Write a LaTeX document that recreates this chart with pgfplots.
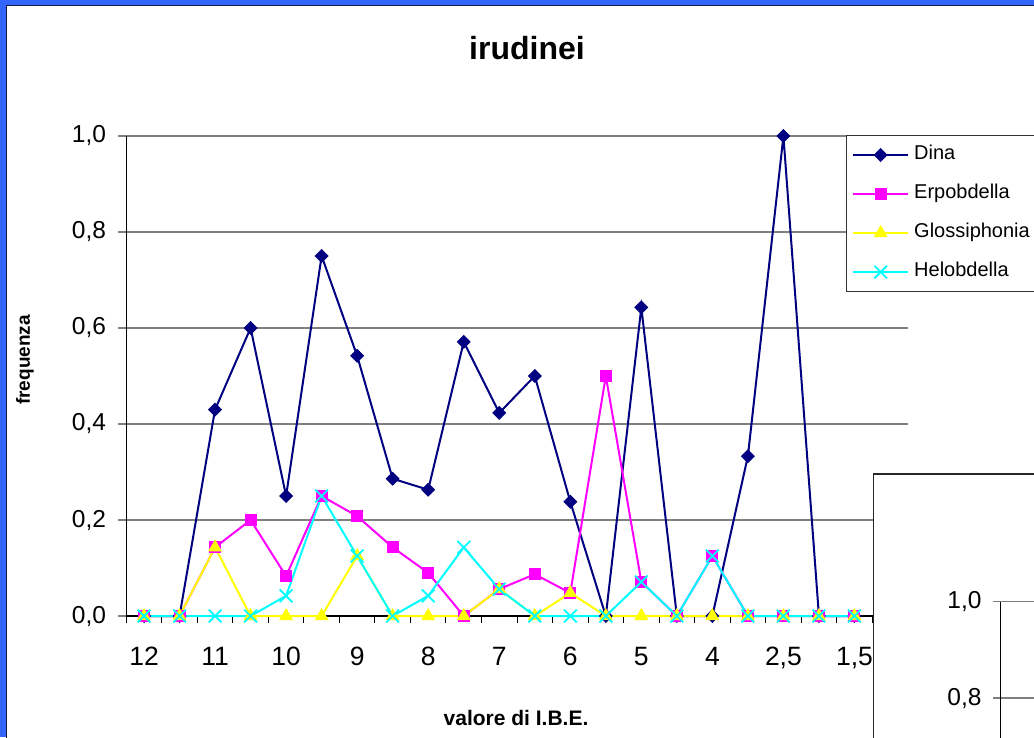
\documentclass[border=0pt]{standalone}
\usepackage{pgfplots}
\pgfplotsset{compat=1.18}
\usepackage{fontspec}
\setmainfont{Liberation Sans}
\definecolor{frameblue}{HTML}{3366FF}
\definecolor{framedark}{HTML}{1A1A40}
\definecolor{dina}{HTML}{000080}
\definecolor{erpo}{HTML}{FF00FF}
\definecolor{glos}{HTML}{FFFF00}
\definecolor{helo}{HTML}{00FFFF}
\definecolor{gridgray}{HTML}{808080}
\newcommand{\fs}[1]{\fontsize{#1}{#1}\selectfont}
\begin{document}
\begin{tikzpicture}[x=1pt,y=1pt]
\path[use as bounding box] (0,0) rectangle (1034,737);
\clip (0,0) rectangle (1034,737);
\fill[white] (0,0) rectangle (1034,737);
\fill[frameblue] (0,0) rectangle (6.3,737);
\fill[frameblue] (0,732) rectangle (1034,737);
\draw[framedark, line width=1.3pt] (6.8,-2) -- (6.8,731.4) -- (1040,731.4);

\node[anchor=base, font=\bfseries\fs{32}] at (527,677) {irudinei};
\node[anchor=base, font=\bfseries\fs{21}] at (516,12) {valore di I.B.E.};
\node[rotate=90, font=\bfseries\fs{19}] at (25,377) {frequenza};

\begin{axis}[
  at={(126.25pt,121pt)}, anchor=south west,
  scale only axis, width=781.5pt, height=480pt,
  xmin=-0.5, xmax=21.5, ymin=0, ymax=1,
  axis lines*=left,
  axis line style={black, line width=1.2pt},
  /pgf/number format/assume math mode=true,
  xtick={0,2,4,6,8,10,12,14,16,18,20},
  xticklabels={12,11,10,9,8,7,6,5,4,{2,5},{1,5}},
  minor xtick={-0.5,0.5,...,21.5},
  major x tick style={draw=none},
  minor x tick style={black, line width=1pt},
  minor tick length=7pt,
  major tick length=8pt,
  tick align=outside,
  ytick={0,0.2,0.4,0.6,0.8,1},
  yticklabel={\pgfmathprintnumber[fixed,fixed zerofill,precision=1,use comma]{\tick}},
  major y tick style={gridgray, line width=1.3pt},
  ymajorgrids,
  major grid style={gridgray, line width=1.3pt},
  xticklabel style={font=\fs{26.5}, anchor=base, inner sep=0pt, yshift=-41pt},
  yticklabel style={font=\fs{24.5}, anchor=base east, inner sep=0pt, xshift=-12pt, yshift=-7pt},
  clip=false,
  legend style={at={(0.9206,1.002)}, anchor=north west, draw=black!80, line width=1pt,
    fill=white, font=\fs{20}, inner xsep=6pt, inner ysep=9pt, row sep=18pt, column sep=3pt,
    nodes={inner sep=2pt, text height=13pt, text depth=4pt}},
  legend cell align=left,
  legend image code/.code={\draw[mark repeat=2,mark phase=2] plot coordinates {(0pt,0pt) (27.5pt,0pt) (55pt,0pt)};},
]
\addplot[dina, line width=2pt, mark=diamond*, mark size=6.3pt, mark options={solid, xscale=1.333, line width=1pt}]
coordinates {(0,0) (1,0) (2,0.43) (3,0.60) (4,0.25) (5,0.75) (6,0.542) (7,0.286) (8,0.263) (9,0.571) (10,0.423) (11,0.50) (12,0.238) (13,0) (14,0.643) (15,0) (16,0) (17,0.333) (18,1.0) (19,0) (20,0)};
\addlegendentry{\makebox[150pt][l]{Dina}}
\addplot[erpo, line width=2pt, mark=square*, mark size=5.5pt, mark options={solid, line width=1pt}]
coordinates {(0,0) (1,0) (2,0.143) (3,0.2) (4,0.083) (5,0.25) (6,0.208) (7,0.143) (8,0.09) (9,0) (10,0.056) (11,0.087) (12,0.048) (13,0.5) (14,0.071) (15,0) (16,0.125) (17,0) (18,0) (19,0) (20,0)};
\addlegendentry{\makebox[150pt][l]{Erpobdella}}
\addplot[glos, line width=2pt, mark=triangle*, mark size=7pt, mark options={solid, line width=1pt}]
coordinates {(0,0) (1,0) (2,0.143) (3,0) (4,0) (5,0) (6,0.125) (7,0) (8,0) (9,0) (10,0.056) (11,0) (12,0.048) (13,0) (14,0) (15,0) (16,0) (17,0) (18,0) (19,0) (20,0)};
\addlegendentry{\makebox[150pt][l]{Glossiphonia}}
\addplot[helo, line width=2pt, mark=x, mark size=9pt, mark options={solid, line width=1.8pt}]
coordinates {(0,0) (1,0) (2,0) (3,0) (4,0.042) (5,0.25) (6,0.125) (7,0) (8,0.042) (9,0.143) (10,0.056) (11,0) (12,0) (13,0) (14,0.071) (15,0) (16,0.125) (17,0) (18,0) (19,0) (20,0)};
\addlegendentry{\makebox[150pt][l]{Helobdella}}
\end{axis}

\fill[white, draw=black!85, line width=1.5pt] (873.3,263) rectangle (1060,-20);

\begin{axis}[
  at={(1000.7pt,135.3pt)}, anchor=north west,
  scale only axis, width=300pt, height=481.5pt,
  xmin=0, xmax=1, ymin=0, ymax=1,
  axis lines*=left,
  axis line style={black, line width=1.2pt},
  /pgf/number format/assume math mode=true,
  xtick=\empty,
  ytick={0.8,1},
  yticklabel={\pgfmathprintnumber[fixed,fixed zerofill,precision=1,use comma]{\tick}},
  major tick length=8pt, tick align=outside,
  major y tick style={gridgray, line width=1.3pt},
  ymajorgrids,
  major grid style={gridgray, line width=1.3pt},
  yticklabel style={font=\fs{24.5}, anchor=base east, inner sep=0pt, xshift=-11pt, yshift=-7pt},
]
\end{axis}
\end{tikzpicture}
\end{document}
